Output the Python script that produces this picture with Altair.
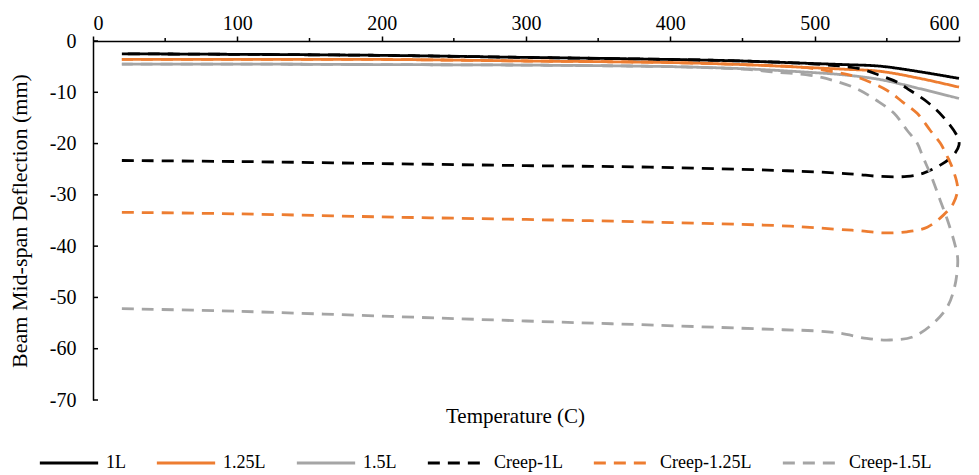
import altair as alt
import pandas as pd

# ---- data ----
SERIES = ["1L", "1.25L", "1.5L", "Creep-1L", "Creep-1.25L", "Creep-1.5L"]
COLORS = ["#000000", "#ED7D31", "#A5A5A5", "#000000", "#ED7D31", "#A5A5A5"]
DASHES = [[1, 0], [1, 0], [1, 0], [12, 8], [12, 8], [12, 8]]

T_SOLID = [20, 100, 200, 300, 400, 450, 490, 520, 545, 573, 600]
D_1L = [-2.5, -2.6, -2.8, -3.2, -3.6, -3.9, -4.3, -4.6, -4.9, -6.0, -7.3]
D_125L = [-3.6, -3.6, -3.6, -3.9, -4.2, -4.6, -5.1, -5.5, -5.9, -7.3, -9.0]
D_15L = [-4.5, -4.5, -4.6, -4.7, -5.0, -5.4, -6.0, -6.6, -7.5, -9.3, -11.2]

T_C1L = [20, 100, 200, 300, 386, 481, 513, 529, 545, 564, 575, 587, 596, 600,
         599, 589, 578, 566, 557, 545, 531, 500, 450, 400, 300, 200, 100, 20]
D_C1L = [-23.3, -23.5, -23.9, -24.3, -24.6, -25.3, -25.7, -26.0, -26.4, -26.4,
         -25.8, -24.2, -22.3, -20.3, -18.7, -14.8, -11.9, -9.6, -8.0, -6.7,
         -5.4, -4.5, -3.9, -3.6, -3.2, -2.8, -2.6, -2.5]

T_C125L = [20, 100, 200, 300, 386, 483, 515, 531, 547, 564, 578, 589, 596, 599,
           596, 592, 587, 580, 571, 561, 550, 529, 513, 490, 450, 400, 300, 200,
           100, 20]
D_C125L = [-33.4, -33.7, -34.3, -34.8, -35.3, -36.1, -36.7, -37.0, -37.4, -37.2,
           -36.3, -34.0, -31.7, -28.8, -25.2, -22.6, -19.9, -17.4, -14.1, -11.9,
           -9.6, -7.0, -6.0, -5.1, -4.6, -4.2, -3.9, -3.6, -3.6, -3.6]

T_C15L = [20, 100, 206, 300, 389, 478, 499, 518, 536, 552, 568, 582, 592, 597,
          599, 599, 597, 592, 587, 581, 575, 571, 564, 555, 543, 529, 513, 497,
          470, 450, 400, 300, 200, 100, 20]
D_C15L = [-52.2, -52.7, -53.7, -54.6, -55.4, -56.3, -56.5, -57.0, -58.0, -58.3,
          -57.7, -55.1, -51.8, -47.9, -44.0, -42.1, -39.5, -34.9, -31.1, -26.5,
          -22.6, -19.9, -17.4, -14.1, -11.6, -9.3, -7.7, -6.7, -6.0, -5.5, -5.0,
          -4.7, -4.6, -4.5, -4.5]

X_LABEL_TICKS = [0, 100, 200, 300, 400, 500, 600]
X_MINOR_TICKS = [50, 150, 250, 350, 450, 550]
Y_TICKS = [0, -10, -20, -30, -40, -50, -60, -70]

FONT = "Liberation Serif"

pairs = [
    ("1L", T_SOLID, D_1L),
    ("1.25L", T_SOLID, D_125L),
    ("1.5L", T_SOLID, D_15L),
    ("Creep-1L", T_C1L, D_C1L),
    ("Creep-1.25L", T_C125L, D_C125L),
    ("Creep-1.5L", T_C15L, D_C15L),
]
rows = []
for name, ts, ds in pairs:
    for i, (t, d) in enumerate(zip(ts, ds)):
        rows.append({"series": name, "temp": t, "defl": d, "idx": i})
df = pd.DataFrame(rows)

xscale = alt.Scale(domain=[0, 600], nice=False, zero=False)
yscale = alt.Scale(domain=[-70, 0], nice=False, zero=False)

legend = alt.Legend(
    title=None, orient="none", direction="horizontal", columns=6,
    legendX=-55, legendY=391, symbolType="stroke", symbolSize=3400,
    symbolStrokeWidth=3, labelFont=FONT, labelFontSize=18, labelColor="black",
    labelOffset=6, columnPadding=24,
)

lines = alt.Chart(df).mark_line(strokeWidth=2.8, interpolate="catmull-rom").encode(
    x=alt.X("temp:Q", scale=xscale, axis=alt.Axis(
        orient="top", values=X_LABEL_TICKS, grid=False, tickSize=5, tickWidth=1.5,
        tickColor="black", domainColor="black", domainWidth=1.5,
        labelFont=FONT, labelFontSize=20, labelColor="black", labelPadding=3,
        title="Temperature (C)", titleFont=FONT, titleFontSize=21,
        titleFontWeight="normal", titleColor="black", titleX=422, titleY=375,
        titleBaseline="middle")),
    y=alt.Y("defl:Q", scale=yscale, axis=alt.Axis(
        values=Y_TICKS, grid=False, ticks=False, domainColor="black",
        domainWidth=1.5, labelFont=FONT, labelFontSize=20, labelColor="black",
        labelPadding=17,
        labelExpr="datum.value == 0 ? '0' : '-' + abs(datum.value)",
        title="Beam Mid-span Deflection (mm)", titleFont=FONT,
        titleFontSize=22, titleFontWeight="normal", titleColor="black",
        titlePadding=18)),
    color=alt.Color("series:N", scale=alt.Scale(domain=SERIES, range=COLORS),
                    legend=legend, sort=SERIES),
    strokeDash=alt.StrokeDash("series:N", scale=alt.Scale(domain=SERIES, range=DASHES),
                              legend=legend, sort=SERIES),
    order=alt.Order("idx:Q"),
)

yticks = alt.Chart(pd.DataFrame({"v": Y_TICKS})).mark_rule(
    color="black", strokeWidth=1.5, x2Offset=5).encode(
    x=alt.datum(0, scale=xscale), x2=alt.datum(0),
    y=alt.Y("v:Q", scale=yscale),
)

xminor = alt.Chart(pd.DataFrame({"v": X_MINOR_TICKS})).mark_rule(
    color="black", strokeWidth=1.5, y2Offset=-3).encode(
    x=alt.X("v:Q", scale=xscale),
    y=alt.datum(0, scale=yscale), y2=alt.datum(0),
)

chart = alt.layer(lines, yticks, xminor).properties(
    width=866, height=359,
    autosize=alt.AutoSizeParams(type="none"),
    padding={"left": 85, "top": 33, "right": 10, "bottom": 78},
    background="white",
).configure_view(stroke=None)

chart.save("out.html", embed_options={"renderer": "svg", "actions": False})
